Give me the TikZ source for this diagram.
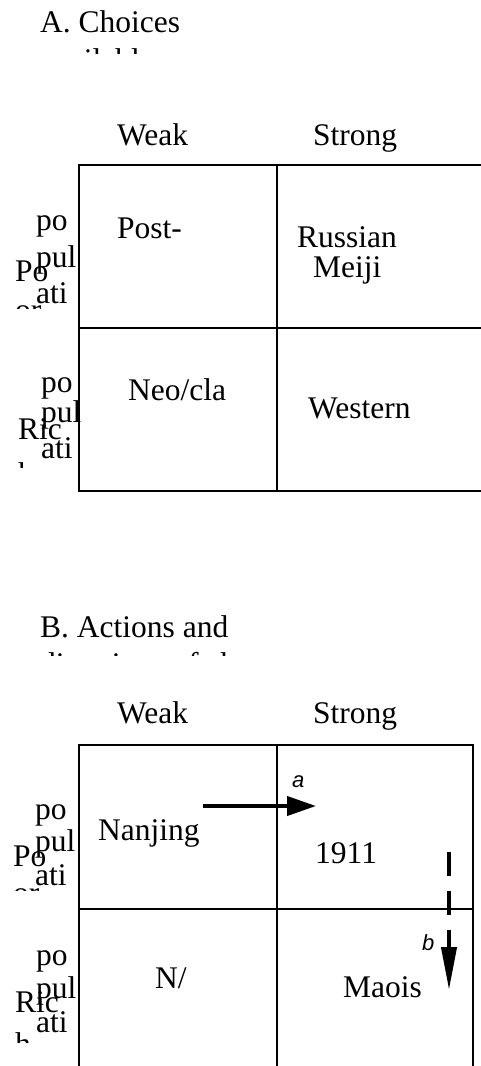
\documentclass[tikz,border=0pt]{standalone}
\usepackage{fontspec}
\setmainfont{Liberation Serif}
\newfontfamily\labelsans{Liberation Sans}
\usetikzlibrary{arrows.meta}
\begin{document}
\begin{tikzpicture}[x=1pt,y=-1pt,
  txt/.style={inner sep=0pt, anchor=base west, font=\fontsize{31.5}{36}\selectfont},
  lbl/.style={inner sep=0pt, anchor=base west, font=\labelsans\itshape\fontsize{22}{26}\selectfont},
  gridline/.style={line width=1.3pt, line cap=rect},
  movearrow/.style={line width=4pt, -{Triangle[length=29pt,width=19pt]}},
  dasharrow/.style={line width=4pt, dash pattern=on 24pt off 15pt, -{Triangle[length=43pt,width=15pt]}}]
\useasboundingbox (0,0) rectangle (481,1066);
\fill[white] (0,0) rectangle (481,1066);

% ---------- Part A ----------
\node[txt] (titleA) at (40,32) {A. Choices};
\begin{scope}
  \clip (0,0) rectangle (481,53);
  \node[txt] (titleAb) at (40,70) {available};
\end{scope}
\node[txt] (weakA) at (117,145) {Weak};
\node[txt] (strongA) at (313,145) {Strong};

\draw[gridline] (79,165) -- (481,165);
\draw[gridline] (79,328) -- (481,328);
\draw[gridline] (79,491) -- (481,491);
\draw[gridline] (79,165) -- (79,491);
\draw[gridline] (277,165) -- (277,491);

\node[txt] (postA) at (117,238) {Post-};
\node[txt] (russianA) at (297,247) {Russian};
\node[txt] (meijiA) at (313,277) {Meiji};
\node[txt] (neoA) at (128,400) {Neo/cla};
\node[txt] (westernA) at (308,418) {Western};

\node[txt] (poA1) at (36,230) {po};
\node[txt] (pulA1) at (36,267) {pul};
\node[txt] (atiA1) at (36,303) {ati};
\node[txt] (PoA) at (15,281) {Po};
\begin{scope}
  \clip (0,0) rectangle (481,308);
  \node[txt] (orA) at (15,320) {or};
\end{scope}

\node[txt] (poA2) at (41,392) {po};
\node[txt] (pulA2) at (41,422) {pul};
\node[txt] (atiA2) at (41,458) {ati};
\node[txt] (RicA) at (18,439) {Ric};
\begin{scope}
  \clip (0,0) rectangle (481,467);
  \node[txt] (hA) at (18,484) {h};
\end{scope}

% ---------- Part B ----------
\node[txt] (titleB) at (40,637) {B. Actions and};
\begin{scope}
  \clip (0,600) rectangle (481,655);
  \node[txt] (titleBb) at (40,674) {directions of change};
\end{scope}
\node[txt] (weakB) at (117,723) {Weak};
\node[txt] (strongB) at (313,723) {Strong};

\draw[gridline] (79,745) -- (473,745);
\draw[gridline] (79,909) -- (473,909);
\draw[gridline] (79,745) -- (79,1066);
\draw[gridline] (277,745) -- (277,1066);
\draw[gridline] (473,745) -- (473,1066);

\node[txt] (nanjingB) at (98,840) {Nanjing};
\node[txt] (yearB) at (315,863) {1911};
\node[txt] (nslashB) at (155,988) {N/};
\node[txt] (maoisB) at (343,997) {Maois};

\node[txt] (poB1) at (35,819) {po};
\node[txt] (pulB1) at (35,851) {pul};
\node[txt] (atiB1) at (35,885) {ati};
\node[txt] (PoB) at (13,866) {Po};
\begin{scope}
  \clip (0,700) rectangle (481,890);
  \node[txt] (orB) at (13,903) {or};
\end{scope}

\node[txt] (poB2) at (36,965) {po};
\node[txt] (pulB2) at (36,998) {pul};
\node[txt] (atiB2) at (36,1032) {ati};
\node[txt] (RicB) at (15,1012) {Ric};
\begin{scope}
  \clip (0,700) rectangle (481,1042);
  \node[txt] (hB) at (15,1054) {h};
\end{scope}

\coordinate (aStart) at (203,806);
\coordinate (aEnd) at (316,806);
\draw[movearrow] (aStart) -- (aEnd);
\node[lbl] (labA) at (292,787) {a};

\coordinate (bStart) at (449,852);
\coordinate (bEnd) at (449,990);
\draw[dasharrow] (bStart) -- (bEnd);
\node[lbl] (labB) at (422,950) {b};
\end{tikzpicture}
\end{document}
